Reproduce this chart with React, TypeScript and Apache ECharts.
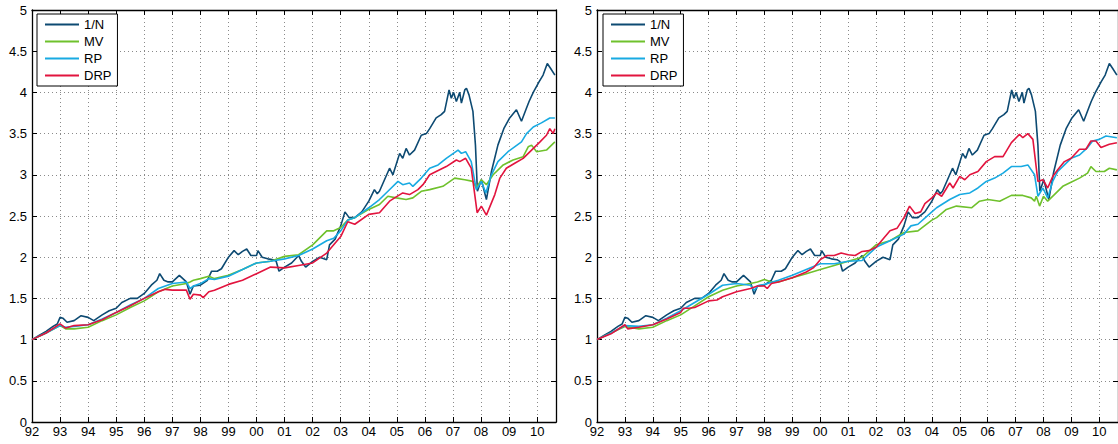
import React, { useEffect, useRef } from "react";
import * as echarts from "echarts";

type P = [number, number];

const seriesNames = ["1/N", "MV", "RP", "DRP"];
const seriesColors = ["#0d4a72", "#6fc12c", "#18aae2", "#e2143e"];
const yTicks = ["0", "0.5", "1", "1.5", "2", "2.5", "3", "3.5", "4", "4.5", "5"];

// 1/N is identical in both panels
const equalWeight: P[] = [
  [1992.0, 1.0], [1992.25, 1.05], [1992.5, 1.1], [1992.75, 1.16], [1992.9, 1.19], [1993.0, 1.27], [1993.1, 1.26],
  [1993.25, 1.21], [1993.5, 1.23], [1993.75, 1.29], [1994.0, 1.27], [1994.2, 1.23], [1994.5, 1.3], [1994.75, 1.35],
  [1995.0, 1.38], [1995.2, 1.45], [1995.5, 1.5], [1995.75, 1.5], [1996.0, 1.56], [1996.25, 1.66], [1996.45, 1.72],
  [1996.55, 1.8], [1996.7, 1.72], [1996.85, 1.7], [1997.0, 1.7], [1997.25, 1.78], [1997.5, 1.7], [1997.63, 1.55],
  [1997.75, 1.65], [1998.0, 1.66], [1998.25, 1.72], [1998.4, 1.83], [1998.6, 1.83], [1998.75, 1.86], [1999.0, 2.0],
  [1999.2, 2.08], [1999.35, 2.03], [1999.5, 2.07], [1999.65, 2.1], [1999.8, 2.02], [2000.0, 2.02], [2000.05, 2.08],
  [2000.2, 2.0], [2000.4, 1.98], [2000.6, 1.97], [2000.7, 1.95], [2000.8, 1.83], [2001.0, 1.88], [2001.25, 1.93],
  [2001.5, 2.02], [2001.6, 1.95], [2001.75, 1.88], [2002.0, 1.95], [2002.25, 2.0], [2002.5, 1.97], [2002.6, 2.15],
  [2002.8, 2.22], [2003.0, 2.38], [2003.15, 2.55], [2003.3, 2.48], [2003.5, 2.48], [2003.75, 2.55], [2004.0, 2.68],
  [2004.2, 2.82], [2004.3, 2.77], [2004.38, 2.8], [2004.74, 3.08], [2004.86, 3.0], [2005.1, 3.26], [2005.21, 3.2],
  [2005.33, 3.32], [2005.45, 3.24], [2005.63, 3.3], [2005.87, 3.48], [2006.05, 3.5], [2006.17, 3.56], [2006.4, 3.69],
  [2006.58, 3.73], [2006.7, 3.77], [2006.86, 4.03], [2006.94, 3.93], [2007.02, 4.0], [2007.12, 3.89], [2007.24, 4.0],
  [2007.3, 3.87], [2007.42, 4.03], [2007.48, 4.05], [2007.57, 3.97], [2007.71, 3.77], [2007.8, 3.36], [2007.87, 2.8],
  [2008.01, 2.94], [2008.19, 2.7], [2008.37, 3.04], [2008.6, 3.36], [2008.81, 3.56], [2009.02, 3.69], [2009.26, 3.79],
  [2009.44, 3.65], [2009.62, 3.81], [2009.71, 3.89], [2009.86, 4.0], [2010.07, 4.13], [2010.21, 4.21], [2010.36, 4.35],
  [2010.48, 4.29], [2010.63, 4.21],
];

const leftMV: P[] = [
  [1992, 1], [1992.5, 1.08], [1993, 1.17], [1993.2, 1.13], [1993.5, 1.13], [1994, 1.15], [1994.5, 1.23], [1995, 1.3],
  [1995.5, 1.39], [1996, 1.47], [1996.5, 1.58], [1997, 1.65], [1997.5, 1.68], [1997.63, 1.7], [1997.75, 1.72],
  [1998, 1.74], [1998.3, 1.77], [1998.5, 1.74], [1999, 1.78], [1999.5, 1.85], [2000, 1.93], [2000.5, 1.95],
  [2001, 2.01], [2001.5, 2.03], [2002, 2.15], [2002.5, 2.32], [2002.75, 2.32], [2003, 2.36], [2003.25, 2.45],
  [2003.5, 2.48], [2004, 2.58], [2004.38, 2.64], [2004.68, 2.74], [2004.98, 2.72], [2005.33, 2.7], [2005.57, 2.72],
  [2005.87, 2.8], [2006.17, 2.82], [2006.64, 2.86], [2007.06, 2.96], [2007.42, 2.94], [2007.71, 2.92], [2007.83, 2.84],
  [2008.01, 2.94], [2008.19, 2.88], [2008.43, 3.0], [2008.79, 3.12], [2009.14, 3.18], [2009.5, 3.22], [2009.68, 3.34],
  [2009.8, 3.36], [2009.98, 3.28], [2010.33, 3.3], [2010.63, 3.4],
];

const leftRP: P[] = [
  [1992, 1], [1992.5, 1.08], [1993, 1.17], [1993.2, 1.15], [1993.5, 1.16], [1994, 1.18], [1994.5, 1.25], [1995, 1.33],
  [1995.5, 1.42], [1996, 1.5], [1996.5, 1.62], [1997, 1.68], [1997.5, 1.7], [1997.63, 1.62], [1997.75, 1.65],
  [1998, 1.68], [1998.3, 1.74], [1998.5, 1.73], [1999, 1.77], [1999.5, 1.85], [2000, 1.93], [2000.5, 1.95],
  [2001, 1.98], [2001.5, 2.02], [2002, 2.1], [2002.5, 2.2], [2002.75, 2.23], [2003, 2.32], [2003.25, 2.45],
  [2003.5, 2.48], [2004, 2.6], [2004.38, 2.7], [2004.8, 2.84], [2005.04, 2.92], [2005.21, 2.88], [2005.45, 2.9],
  [2005.57, 2.86], [2005.87, 2.96], [2006.17, 3.08], [2006.47, 3.12], [2006.76, 3.2], [2007.18, 3.3], [2007.3, 3.26],
  [2007.45, 3.28], [2007.65, 3.16], [2007.83, 2.82], [2008.01, 2.92], [2008.17, 2.78], [2008.37, 3.0], [2008.6, 3.16],
  [2008.96, 3.28], [2009.44, 3.4], [2009.62, 3.5], [2009.86, 3.58], [2010.15, 3.63], [2010.45, 3.69], [2010.63, 3.69],
];

const leftDRP: P[] = [
  [1992, 1], [1992.5, 1.08], [1993, 1.19], [1993.2, 1.14], [1993.5, 1.17], [1994, 1.18], [1994.5, 1.24], [1995, 1.33],
  [1995.5, 1.41], [1996, 1.5], [1996.5, 1.58], [1996.75, 1.61], [1997, 1.6], [1997.5, 1.6], [1997.63, 1.49],
  [1997.75, 1.55], [1998, 1.54], [1998.1, 1.51], [1998.3, 1.58], [1998.5, 1.6], [1999, 1.67], [1999.5, 1.72],
  [2000, 1.8], [2000.5, 1.88], [2001, 1.87], [2001.5, 1.9], [2002, 1.93], [2002.5, 2.05], [2002.75, 2.15],
  [2003, 2.25], [2003.25, 2.43], [2003.5, 2.4], [2004, 2.52], [2004.38, 2.54], [2004.74, 2.68], [2004.92, 2.72],
  [2005.21, 2.78], [2005.45, 2.76], [2005.75, 2.82], [2005.93, 2.88], [2006.17, 3.0], [2006.4, 3.04], [2006.76, 3.1],
  [2007.12, 3.18], [2007.24, 3.16], [2007.45, 3.2], [2007.65, 3.08], [2007.86, 2.54], [2008.01, 2.62], [2008.19, 2.51],
  [2008.49, 2.76], [2008.67, 2.96], [2008.9, 3.08], [2009.2, 3.14], [2009.5, 3.2], [2009.8, 3.3], [2010.1, 3.4],
  [2010.33, 3.48], [2010.45, 3.56], [2010.57, 3.5], [2010.63, 3.56],
];

const rightMV: P[] = [
  [1992, 1], [1992.5, 1.08], [1993, 1.16], [1993.5, 1.13], [1994, 1.15], [1994.5, 1.23], [1995, 1.3], [1995.5, 1.41],
  [1996, 1.52], [1996.5, 1.6], [1997, 1.65], [1997.5, 1.68], [1997.75, 1.7], [1998, 1.73], [1998.25, 1.7],
  [1998.5, 1.7], [1999, 1.75], [1999.5, 1.8], [2000, 1.85], [2000.5, 1.9], [2001, 1.95], [2001.5, 2.0], [2002, 2.15],
  [2002.5, 2.2], [2003, 2.3], [2003.5, 2.32], [2004, 2.45], [2004.17, 2.48], [2004.52, 2.58], [2004.88, 2.62],
  [2005.42, 2.6], [2005.71, 2.68], [2006.01, 2.7], [2006.43, 2.68], [2006.85, 2.75], [2007.26, 2.75], [2007.56, 2.72],
  [2007.68, 2.68], [2007.74, 2.74], [2007.86, 2.62], [2008.0, 2.74], [2008.15, 2.68], [2008.39, 2.76], [2008.69, 2.86],
  [2008.93, 2.9], [2009.29, 2.96], [2009.58, 3.02], [2009.7, 3.1], [2009.88, 3.04], [2010.18, 3.04], [2010.36, 3.08],
  [2010.63, 3.06],
];

const rightRP: P[] = [
  [1992, 1], [1992.5, 1.08], [1993, 1.17], [1993.5, 1.16], [1994, 1.18], [1994.5, 1.26], [1995, 1.35], [1995.5, 1.45],
  [1996, 1.55], [1996.5, 1.66], [1997, 1.68], [1997.5, 1.66], [1997.63, 1.6], [1997.8, 1.66], [1998, 1.67],
  [1998.5, 1.72], [1999, 1.78], [1999.5, 1.85], [2000, 1.92], [2000.5, 1.92], [2001, 1.95], [2001.5, 1.96],
  [2002, 2.12], [2002.5, 2.2], [2003, 2.28], [2003.25, 2.38], [2003.5, 2.4], [2004, 2.55], [2004.17, 2.6],
  [2004.64, 2.7], [2005.0, 2.76], [2005.36, 2.78], [2005.65, 2.84], [2005.95, 2.92], [2006.25, 2.96], [2006.55, 3.02],
  [2006.85, 3.1], [2007.2, 3.1], [2007.44, 3.12], [2007.68, 3.0], [2007.8, 2.74], [2007.98, 2.84], [2008.15, 2.72],
  [2008.33, 2.92], [2008.51, 3.04], [2008.75, 3.12], [2008.99, 3.2], [2009.29, 3.24], [2009.58, 3.33], [2009.76, 3.41],
  [2010.0, 3.43], [2010.24, 3.47], [2010.63, 3.45],
];

const rightDRP: P[] = [
  [1992, 1], [1992.5, 1.07], [1993, 1.18], [1993.1, 1.13], [1993.5, 1.15], [1994, 1.18], [1994.5, 1.25], [1995, 1.33],
  [1995.1, 1.38], [1995.3, 1.38], [1995.5, 1.39], [1996, 1.47], [1996.3, 1.48], [1996.5, 1.52], [1997, 1.58],
  [1997.5, 1.62], [1997.75, 1.65], [1998, 1.65], [1998.1, 1.62], [1998.25, 1.68], [1998.5, 1.7], [1999, 1.75],
  [1999.5, 1.82], [1999.75, 1.87], [2000, 1.97], [2000.25, 2.02], [2000.5, 2.02], [2000.75, 2.05], [2001, 2.03],
  [2001.25, 2.02], [2001.5, 2.07], [2001.75, 2.08], [2002, 2.12], [2002.25, 2.22], [2002.5, 2.32], [2002.75, 2.35],
  [2003, 2.48], [2003.2, 2.62], [2003.4, 2.53], [2003.6, 2.55], [2003.75, 2.65], [2004, 2.72], [2004.17, 2.78],
  [2004.35, 2.74], [2004.64, 2.9], [2004.76, 2.84], [2005.0, 2.98], [2005.18, 2.94], [2005.36, 3.0], [2005.65, 3.04],
  [2005.95, 3.16], [2006.25, 3.22], [2006.55, 3.22], [2006.85, 3.39], [2007.14, 3.49], [2007.26, 3.45], [2007.44, 3.5],
  [2007.62, 3.43], [2007.8, 2.92], [2007.98, 2.94], [2008.15, 2.84], [2008.33, 2.98], [2008.51, 3.06], [2008.75, 3.16],
  [2008.99, 3.2], [2009.29, 3.31], [2009.52, 3.31], [2009.7, 3.41], [2009.88, 3.41], [2010.06, 3.33], [2010.36, 3.37],
  [2010.63, 3.39],
];

const leftData = [equalWeight, leftMV, leftRP, leftDRP];
const rightData = [equalWeight, rightMV, rightRP, rightDRP];

const FONT = "'Liberation Sans', Arial, Helvetica, sans-serif";
const X_MIN = 1992;
const X_MAX = 2010.67;

export default function App() {
  const ref = useRef<HTMLDivElement>(null);
  useEffect(() => {
    if (!ref.current) return;
    const chart = echarts.init(ref.current, undefined, { renderer: "svg" });
    const grids = [
      { left: 32, top: 10, width: 524, height: 412 },
      { left: 597, top: 10, width: 524, height: 412 },
    ];
    const splitLine = { show: true, lineStyle: { color: "#8a8a8a", width: 1, type: [1, 3] as any } };
    const axisLine = { show: true, onZero: false, lineStyle: { color: "#000", width: 1.3 } };
    const tick = { show: true, inside: true, length: 5, lineStyle: { color: "#000", width: 1 } };
    const xAxes: any[] = [];
    const yAxes: any[] = [];
    [0, 1].forEach((g) => {
      xAxes.push({
        type: "value", gridIndex: g, min: X_MIN, max: X_MAX, interval: 1, position: "bottom",
        axisLine, axisTick: tick, splitLine,
        axisLabel: {
          show: true, margin: 3, color: "#000", fontSize: 13, fontFamily: FONT, showMaxLabel: false,
          formatter: (v: number) => String(Math.round(v) % 100).padStart(2, "0"),
        },
      });
      xAxes.push({
        type: "value", gridIndex: g, min: X_MIN, max: X_MAX, interval: 1, position: "top",
        axisLine, axisTick: tick, splitLine: { show: false }, axisLabel: { show: false },
      });
      yAxes.push({
        type: "value", gridIndex: g, min: 0, max: 5, interval: 0.5, position: "left",
        axisLine, axisTick: tick, splitLine,
        axisLabel: {
          show: true, margin: 5, color: "#000", fontSize: 13, fontFamily: FONT,
          formatter: (v: number) => yTicks[Math.round(v * 2)],
        },
      });
      yAxes.push({
        type: "value", gridIndex: g, min: 0, max: 5, interval: 0.5, position: "right",
        axisLine, axisTick: tick, splitLine: { show: false }, axisLabel: { show: false },
      });
    });
    const series: any[] = [];
    [leftData, rightData].forEach((panel, g) => {
      panel.forEach((d, i) => {
        series.push({
          type: "line", name: seriesNames[i], xAxisIndex: g * 2, yAxisIndex: g * 2, data: d,
          showSymbol: false, symbol: "none", lineStyle: { color: seriesColors[i], width: 1.6 },
          itemStyle: { color: seriesColors[i] }, z: 2 + i, clip: true,
        });
      });
    });
    const legendBase = {
      orient: "vertical", top: 14, icon: "rect", itemWidth: 34, itemHeight: 2, itemGap: 4,
      padding: [4, 6, 4, 8], backgroundColor: "#fff", borderColor: "#000", borderWidth: 1,
      textStyle: { color: "#000", fontSize: 13, fontFamily: FONT, lineHeight: 13, padding: [0, 0, 0, 0] },
      data: seriesNames, selectedMode: false, z: 20,
    };
    chart.setOption({
      animation: false,
      backgroundColor: "#fff",
      grid: grids,
      xAxis: xAxes,
      yAxis: yAxes,
      legend: [
        { ...legendBase, left: 37 },
        { ...legendBase, left: 603 },
      ],
      series,
    });
    return () => chart.dispose();
  }, []);
  return (
    <div
      ref={ref}
      style={{ position: "fixed", left: 0, top: 0, width: 1118, height: 444, background: "#fff" }}
    />
  );
}
